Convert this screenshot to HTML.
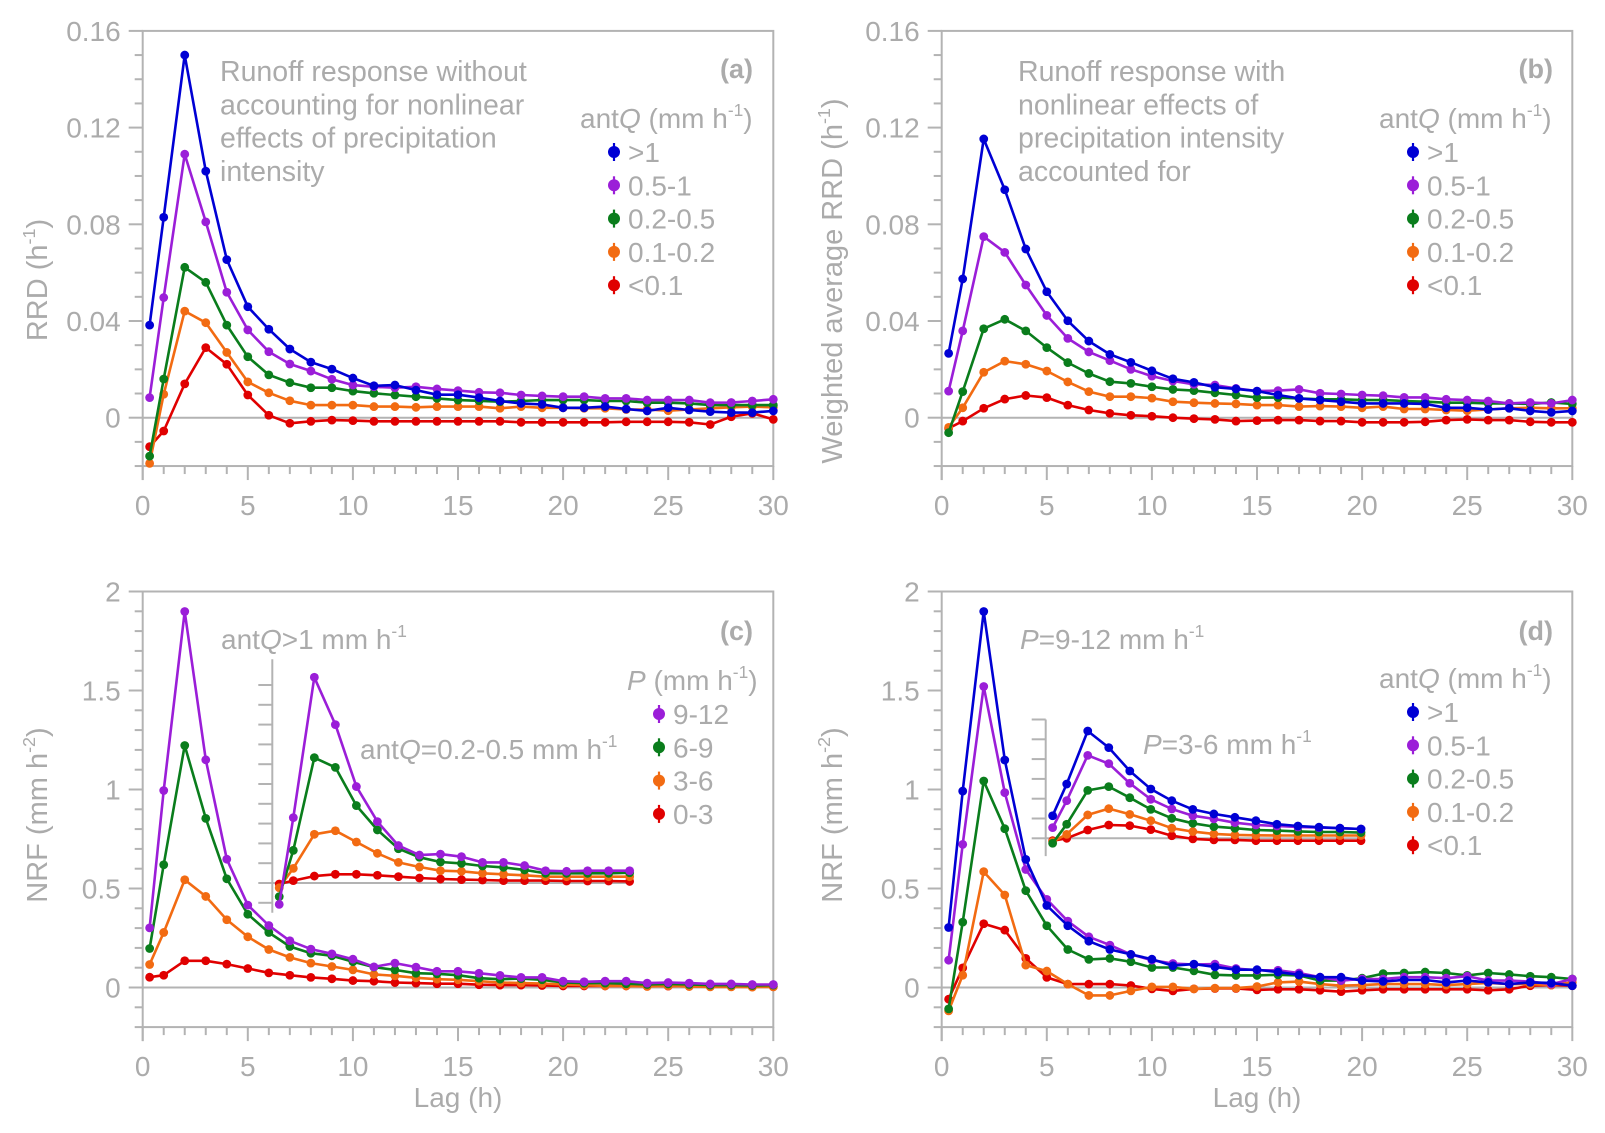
<!DOCTYPE html>
<html><head><meta charset="utf-8"><style>
html,body{margin:0;padding:0;background:#fff;}
svg{display:block;font-family:"Liberation Sans",Arial,sans-serif;}
</style></head><body>
<svg id="fig" width="1605" height="1133" viewBox="0 0 1605 1133" xmlns="http://www.w3.org/2000/svg"></svg>
<script>
// ---------- data ----------
const lags = [0.33,1,2,3,4,5,6,7,8,9,10,11,12,13,14,15,16,17,18,19,20,21,22,23,24,25,26,27,28,29,30];
const seriesNamesA = ['blue','purple','green','orange','red'];
const legendLabelsQ = ['>1','0.5-1','0.2-0.5','0.1-0.2','<0.1'];
const legendLabelsP = ['9-12','6-9','3-6','0-3'];
const yTicksTop = [0,0.04,0.08,0.12,0.16];
const yTickLabelsTop = ['0','0.04','0.08','0.12','0.16'];
const yTicksBot = [0,0.5,1,1.5,2];
const yTickLabelsBot = ['0','0.5','1','1.5','2'];
const xTicks = [0,5,10,15,20,25,30];
const xTickLabels = ['0','5','10','15','20','25','30'];

const A_blue = [0.0383,0.0829,0.150,0.102,0.0654,0.0459,0.0366,0.0284,0.0230,0.0201,0.0164,0.0132,0.0135,0.0114,0.0095,0.0095,0.0083,0.0069,0.0059,0.0055,0.0041,0.0041,0.0046,0.0036,0.0028,0.0041,0.0032,0.0025,0.0021,0.0021,0.0028];
const A_purple = [0.0083,0.0497,0.109,0.081,0.0519,0.0363,0.0273,0.0222,0.0193,0.0159,0.0135,0.0128,0.0124,0.0128,0.0119,0.0112,0.0105,0.0103,0.0094,0.0090,0.0087,0.0087,0.0080,0.0080,0.0073,0.0073,0.0073,0.0062,0.0063,0.0069,0.0076];
const A_green = [-0.0159,0.016,0.0622,0.056,0.0383,0.0252,0.0177,0.0145,0.0124,0.0124,0.011,0.0101,0.0094,0.0087,0.008,0.0073,0.007,0.0066,0.0069,0.0073,0.0073,0.0073,0.0069,0.0069,0.0062,0.0062,0.0059,0.0052,0.0052,0.0052,0.0052];
const A_orange = [-0.0189,0.0097,0.0441,0.0393,0.027,0.0148,0.0103,0.007,0.0052,0.0052,0.0052,0.0046,0.0046,0.0043,0.0046,0.0046,0.0046,0.0039,0.0046,0.0041,0.0041,0.0039,0.0039,0.0034,0.0034,0.0029,0.0034,0.0039,0.0043,0.0046,0.0043];
const A_red = [-0.012,-0.0055,0.014,0.029,0.0221,0.0094,0.001,-0.0023,-0.0015,-0.001,-0.0012,-0.0015,-0.0015,-0.0015,-0.0015,-0.0015,-0.0015,-0.0015,-0.0019,-0.0019,-0.0019,-0.0019,-0.0019,-0.0017,-0.0017,-0.0017,-0.0019,-0.0028,0.0004,0.0018,-0.0007];

const B_blue = [0.0266,0.0574,0.1153,0.0943,0.0698,0.0521,0.0401,0.0317,0.0262,0.0229,0.0194,0.0161,0.0146,0.0126,0.0119,0.011,0.0094,0.008,0.0073,0.0066,0.0059,0.0059,0.0059,0.0057,0.0041,0.0041,0.0034,0.0039,0.0028,0.0022,0.0028];
const B_purple = [0.011,0.0359,0.0749,0.0684,0.0549,0.0423,0.0328,0.0272,0.0236,0.02,0.0172,0.0152,0.0138,0.0135,0.0121,0.011,0.0112,0.0117,0.0101,0.0098,0.0094,0.0091,0.0084,0.0084,0.0076,0.0073,0.0069,0.0059,0.0063,0.0059,0.0073];
const B_green = [-0.0062,0.0108,0.0368,0.0407,0.0359,0.029,0.0228,0.0183,0.0149,0.0142,0.0128,0.0117,0.0112,0.0103,0.0094,0.0083,0.0083,0.008,0.0076,0.0076,0.0073,0.0073,0.0069,0.0066,0.0062,0.0062,0.0059,0.0059,0.0057,0.0063,0.0057];
const B_orange = [-0.004,0.0041,0.0188,0.0234,0.0221,0.0193,0.0148,0.0108,0.0087,0.0087,0.0081,0.0066,0.0062,0.0059,0.0057,0.0052,0.0052,0.0046,0.0048,0.0046,0.0041,0.0046,0.0036,0.0036,0.0032,0.0029,0.0034,0.0039,0.0041,0.0039,0.0039];
const B_red = [-0.0044,-0.0014,0.0039,0.0077,0.0092,0.0083,0.0052,0.0032,0.0018,0.001,0.0006,0,-0.0004,-0.0007,-0.0014,-0.0012,-0.001,-0.001,-0.0014,-0.0014,-0.0019,-0.0019,-0.0019,-0.0017,-0.001,-0.0007,-0.001,-0.001,-0.0017,-0.0019,-0.0019];

const C_purple = [0.301,0.995,1.899,1.150,0.648,0.416,0.313,0.236,0.194,0.170,0.143,0.104,0.123,0.103,0.082,0.082,0.072,0.061,0.051,0.051,0.032,0.029,0.032,0.032,0.022,0.025,0.022,0.018,0.018,0.015,0.015];
const C_green = [0.197,0.620,1.222,0.854,0.549,0.370,0.278,0.207,0.173,0.160,0.130,0.103,0.089,0.072,0.069,0.062,0.047,0.042,0.045,0.039,0.025,0.022,0.022,0.019,0.015,0.018,0.015,0.012,0.012,0.010,0.012];
const C_orange = [0.116,0.278,0.544,0.460,0.342,0.256,0.192,0.152,0.123,0.106,0.089,0.066,0.059,0.049,0.042,0.039,0.032,0.025,0.022,0.020,0.015,0.012,0.008,0.008,0.005,0.008,0.005,0.003,0.003,0.002,0.003];
const C_red = [0.052,0.062,0.135,0.135,0.118,0.096,0.074,0.062,0.051,0.044,0.035,0.032,0.025,0.022,0.019,0.019,0.014,0.012,0.012,0.010,0.008,0.008,0.008,0.008,0.007,0.007,0.006,0.005,0.005,0.004,0.004];

const lagsInsetC = [0.33,1,2,3,4,5,6,7,8,9,10,11,12,13,14,15,16,17];
const CI_purple = [-0.108,0.330,1.039,0.800,0.487,0.310,0.189,0.141,0.146,0.133,0.104,0.104,0.088,0.062,0.059,0.062,0.062,0.062];
const CI_green = [-0.069,0.165,0.633,0.584,0.391,0.268,0.173,0.130,0.106,0.099,0.086,0.079,0.066,0.049,0.049,0.049,0.049,0.052];
const CI_orange = [-0.024,0.074,0.246,0.264,0.207,0.150,0.104,0.081,0.062,0.059,0.049,0.044,0.039,0.032,0.032,0.032,0.032,0.032];
const CI_red = [-0.005,0.012,0.035,0.044,0.044,0.039,0.032,0.025,0.020,0.017,0.015,0.012,0.012,0.012,0.010,0.010,0.010,0.008];

const D_blue = [0.303,0.992,1.899,1.149,0.647,0.414,0.312,0.234,0.192,0.167,0.143,0.11,0.118,0.104,0.09,0.09,0.078,0.064,0.052,0.052,0.035,0.031,0.038,0.038,0.026,0.035,0.026,0.017,0.026,0.023,0.009];
const D_purple = [0.138,0.723,1.52,0.984,0.596,0.445,0.335,0.256,0.214,0.167,0.138,0.121,0.116,0.118,0.096,0.087,0.087,0.073,0.052,0.035,0.043,0.043,0.052,0.052,0.047,0.057,0.035,0.035,0.030,0.017,0.043];
const D_green = [-0.108,0.330,1.043,0.802,0.489,0.312,0.192,0.142,0.147,0.13,0.101,0.101,0.084,0.064,0.061,0.061,0.064,0.061,0.035,0.035,0.047,0.070,0.073,0.078,0.073,0.061,0.073,0.066,0.057,0.052,0.043];
const D_orange = [-0.118,0.062,0.585,0.467,0.113,0.083,0.017,-0.04,-0.04,-0.017,0.003,0.003,-0.007,-0.003,-0.003,0.005,0.026,0.030,0.017,0.009,0.012,0.017,0.017,0.017,0.012,0.017,0.023,0.017,0.017,0.012,0.026];
const D_red = [-0.059,0.099,0.322,0.29,0.147,0.051,0.017,0.017,0.017,0.01,-0.007,-0.017,-0.007,-0.005,-0.005,-0.012,-0.009,-0.009,-0.014,-0.021,-0.014,-0.009,-0.009,-0.009,-0.009,-0.009,-0.014,-0.009,0.009,0.012,0.009];

const lagsInsetD = [0.33,1,2,3,4,5,6,7,8,9,10,11,12,13,14,15];
const DI_blue = [0.114,0.274,0.542,0.458,0.340,0.249,0.19,0.146,0.123,0.106,0.089,0.071,0.062,0.056,0.051,0.047];
const DI_purple = [0.054,0.19,0.419,0.377,0.278,0.197,0.148,0.114,0.098,0.079,0.067,0.062,0.057,0.054,0.051,0.047];
const DI_green = [-0.025,0.071,0.242,0.261,0.205,0.146,0.101,0.076,0.059,0.051,0.042,0.039,0.035,0.032,0.032,0.029];
const DI_orange = [-0.017,0.02,0.118,0.15,0.121,0.089,0.051,0.034,0.022,0.017,0.015,0.014,0.014,0.014,0.014,0.014];
const DI_red = [-0.012,0,0.042,0.067,0.064,0.044,0.013,-0.003,-0.008,-0.008,-0.012,-0.012,-0.012,-0.012,-0.012,-0.012];

// ---------- drawing ----------
const NS='http://www.w3.org/2000/svg';
const svg=document.getElementById('fig');
const GREY='#b3b3b3', TXT='#ababab';
const COL={blue:'#0000d4',purple:'#9b1ed8',green:'#0a7d1c',orange:'#f26b12',red:'#e00000'};
function el(tag,attrs,parent){const e=document.createElementNS(NS,tag);for(const k in attrs)e.setAttribute(k,attrs[k]);(parent||svg).appendChild(e);return e;}
function line(x1,y1,x2,y2,p){return el('line',{x1,y1,x2,y2,stroke:GREY,'stroke-width':2},p);}
function supText(x,y,parts,size,anchor,p){
  const t=el('text',{x,y,'font-size':size,fill:TXT,'text-anchor':anchor||'start'},p);
  parts.forEach(pt=>{const s=document.createElementNS(NS,'tspan');
    if(pt.i)s.setAttribute('font-style','italic');
    if(pt.sup){s.setAttribute('font-size',size*0.62);s.setAttribute('dy',-size*0.42);}
    if(pt.down){s.setAttribute('dy',size*0.42);}
    s.textContent=pt.t;t.appendChild(s);});
  return t;}

function panel(cfg){
  const g=el('g',{});
  
  
  const X0=cfg.x0, XW=630.6, x=v=>X0+v/30*XW;
  const y=v=>cfg.yZero - v*cfg.yScale;
  const top=y(cfg.yMax), bot=y(cfg.yMin), right=X0+XW;
  const fr=el('rect',{x:X0,y:top,width:XW,height:bot-top,fill:'none',stroke:GREY,'stroke-width':2},g);
  
  
  line(X0,y(0),right,y(0),g);
  for(let v=cfg.yMin; v<=cfg.yMax+1e-9; v+=cfg.yMinor){
    const isMaj=cfg.yTicks.some(t=>Math.abs(t-v)<1e-9);
    line(X0-(isMaj?14:8),y(v),X0,y(v),g);
  }
  cfg.yTicks.forEach((v,i)=>{const t=el('text',{x:X0-22,y:y(v)+10,'font-size':28,fill:TXT,'text-anchor':'end'},g);
    t.textContent=cfg.yLabels[i];
    
    });
  line(X0,bot,X0,bot+14,g);
  for(let v=0; v<=30; v++){const maj=v%5===0;line(x(v),bot,x(v),bot+(maj?14:8),g);}
  xTicks.forEach((v,i)=>{const t=el('text',{x:x(v),y:cfg.xLabY,'font-size':28,fill:TXT,'text-anchor':'middle'},g);
    t.textContent=xTickLabels[i];
    
    });
  if(cfg.inset){
    const I=cfg.inset, ix=v=>I.x0+v/30*XW, iy=v=>I.yZero-v*cfg.yScale;
    line(I.x0,iy(I.axMin),I.x0,iy(I.axMax),g);
    line(I.x0,iy(0),ix(I.xEnd),iy(0),g);
    I.ticks.forEach(v=>line(I.x0-14,iy(v),I.x0,iy(v),g));
    drawSeries(g,I.series,I.lags,ix,iy,'inset-');
  }
  drawSeries(g,cfg.series,lags,x,y,'');
  return g;
}
function drawSeries(g,series,lg,x,y,prefix){
  series.forEach(s=>{
    const pts=s.vals.map((v,i)=>x(lg[i]).toFixed(1)+','+y(v).toFixed(1)).join(' ');
    const pl=el('polyline',{points:pts,fill:'none',stroke:COL[s.c],'stroke-width':2.6,'stroke-linejoin':'round'},g);
    
    
    s.vals.forEach((v,i)=>{const c=el('circle',{cx:x(lg[i]),cy:y(v),r:4.4,fill:COL[s.c]},g);
      
      });
  });
}
function legend(x0,yTitle,titleParts,labels,colors){
  const g=el('g',{});
  
  
  supText(x0.title,yTitle,titleParts,28,'start',g);
  labels.forEach((lab,i)=>{const cy=yTitle+24+i*33.3;
    el('line',{x1:x0.m,y1:cy-9,x2:x0.m,y2:cy+9,stroke:COL[colors[i]],'stroke-width':2.2},g);
    el('circle',{cx:x0.m,cy:cy,r:6,fill:COL[colors[i]]},g);
    const t=el('text',{x:x0.m+14,y:cy+10,'font-size':28,fill:TXT},g);
    t.textContent=lab;
    
    });
}
function label(x,y,txt){const t=el('text',{x,y,'font-size':27,'font-weight':'bold',fill:TXT,'text-anchor':'end'});t.textContent=txt;
  }
function para(x,y,lines){lines.forEach((l,i)=>{const t=el('text',{x,y:y+i*33.3,'font-size':28.5,fill:TXT});t.textContent=l;
  });}
function ytitle(cx,cy,parts){const g=el('g',{transform:`translate(${cx},${cy}) rotate(-90)`});
  
  supText(0,10,parts,29,'middle',g);}

const Q=['blue','purple','green','orange','red'];
const topCfg={yZero:417.7,yScale:2417.5,yMin:-0.02,yMax:0.16,yMinor:0.01,yTicks:yTicksTop,yLabels:yTickLabelsTop,xLabY:515};
const botCfg={yZero:987.5,yScale:198,yMin:-0.2,yMax:2,yMinor:0.1,yTicks:yTicksBot,yLabels:yTickLabelsBot,xLabY:1076};

panel(Object.assign({name:'panel-a',x0:142.7,series:[
  {c:'red',vals:A_red},{c:'orange',vals:A_orange},{c:'green',vals:A_green},{c:'purple',vals:A_purple},{c:'blue',vals:A_blue}]},topCfg));
panel(Object.assign({name:'panel-b',x0:941.7,series:[
  {c:'red',vals:B_red},{c:'orange',vals:B_orange},{c:'green',vals:B_green},{c:'purple',vals:B_purple},{c:'blue',vals:B_blue}]},topCfg));
panel(Object.assign({name:'panel-c',x0:142.7,series:[
  {c:'red',vals:C_red},{c:'orange',vals:C_orange},{c:'green',vals:C_green},{c:'purple',vals:C_purple}],
  inset:{x0:272.3,yZero:883,axMin:-0.15,axMax:1.13,xEnd:17,ticks:[-0.1,0,0.1,0.2,0.3,0.4,0.5,0.6,0.7,0.8,0.9,1.0],lags:lagsInsetC,
    series:[{c:'red',vals:CI_red},{c:'orange',vals:CI_orange},{c:'green',vals:CI_green},{c:'purple',vals:CI_purple}]}},botCfg));
panel(Object.assign({name:'panel-d',x0:941.7,series:[
  {c:'red',vals:D_red},{c:'orange',vals:D_orange},{c:'green',vals:D_green},{c:'purple',vals:D_purple},{c:'blue',vals:D_blue}],
  inset:{x0:1045.7,yZero:838.3,axMin:-0.09,axMax:0.6,xEnd:15,ticks:[0,0.1,0.2,0.3,0.4,0.5,0.6],lags:lagsInsetD,
    series:[{c:'red',vals:DI_red},{c:'orange',vals:DI_orange},{c:'green',vals:DI_green},{c:'purple',vals:DI_purple},{c:'blue',vals:DI_blue}]}},botCfg));

label(753,78,'(a)'); label(1553,78,'(b)'); label(753,640,'(c)'); label(1553,640,'(d)');
para(220,81,['Runoff response without','accounting for nonlinear','effects of precipitation','intensity']);
para(1018,81,['Runoff response with','nonlinear effects of','precipitation intensity','accounted for']);
const antQ=[{t:'ant'},{t:'Q',i:1},{t:' (mm h'},{t:'-1',sup:1},{t:')',down:1}];
legend({title:580,m:614},128,antQ,legendLabelsQ,Q);
legend({title:1379,m:1413},128,antQ,legendLabelsQ,Q);
legend({title:627,m:659},690,[{t:'P',i:1},{t:' (mm h'},{t:'-1',sup:1},{t:')',down:1}],legendLabelsP,['purple','green','orange','red']);
legend({title:1379,m:1413},688,antQ,legendLabelsQ,Q);
supText(221,649,[{t:'ant'},{t:'Q',i:1},{t:'>1 mm h'},{t:'-1',sup:1}],28,'start');
supText(360,759,[{t:'ant'},{t:'Q',i:1},{t:'=0.2-0.5 mm h'},{t:'-1',sup:1}],28,'start');
supText(1020,649,[{t:'P',i:1},{t:'=9-12 mm h'},{t:'-1',sup:1}],28,'start');
supText(1143,754,[{t:'P',i:1},{t:'=3-6 mm h'},{t:'-1',sup:1}],28,'start');
ytitle(37,280,[{t:'RRD (h'},{t:'-1',sup:1},{t:')',down:1}]);
ytitle(832,281,[{t:'Weighted average RRD (h'},{t:'-1',sup:1},{t:')',down:1}]);
ytitle(37,815,[{t:'NRF (mm h'},{t:'-2',sup:1},{t:')',down:1}]);
ytitle(832,815,[{t:'NRF (mm h'},{t:'-2',sup:1},{t:')',down:1}]);
[458,1257].forEach(cx=>{const t=el('text',{x:cx,y:1107,'font-size':28,fill:TXT,'text-anchor':'middle'});t.textContent='Lag (h)';
  });
</script>
</body></html>
